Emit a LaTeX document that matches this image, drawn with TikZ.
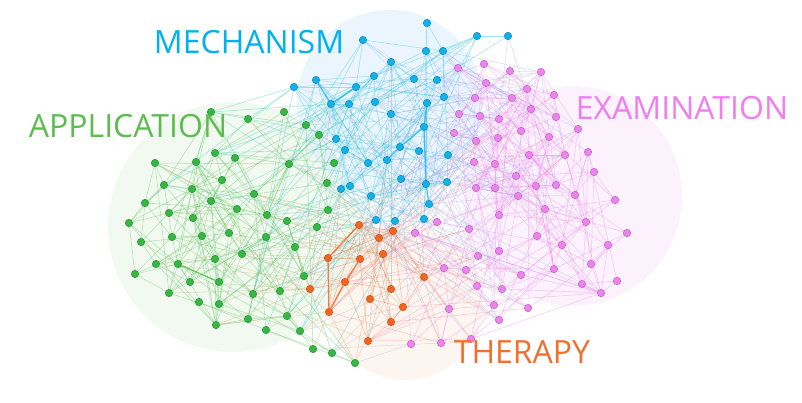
\documentclass[tikz,border=0pt]{standalone}
\usepackage{fontspec}
\setmainfont{Open Sans}
\pgfdeclarelayer{bg}
\pgfdeclarelayer{fg}
\pgfsetlayers{bg,main,fg}
% circle fills
\definecolor{cirg}{HTML}{E2F3DE}
\definecolor{cirb}{HTML}{D4EBFB}
\definecolor{cirp}{HTML}{F9E0FB}
\definecolor{ciro}{HTML}{FBE3D5}
% node fills / borders
\definecolor{fill1}{HTML}{34B843}\definecolor{line1}{HTML}{1F8A2C}
\definecolor{fill2}{HTML}{10B2E8}\definecolor{line2}{HTML}{0A7DAE}
\definecolor{fill3}{HTML}{EE82EE}\definecolor{line3}{HTML}{B25AB2}
\definecolor{fill4}{HTML}{F2651F}\definecolor{line4}{HTML}{BE4A10}
% edge colours
\definecolor{e11}{HTML}{4CBF4C}
\definecolor{e22}{HTML}{18BEEE}
\definecolor{e33}{HTML}{F07CF0}
\definecolor{e44}{HTML}{F26A2A}
\definecolor{e12}{HTML}{2CC4B0}\colorlet{e21}{e12}
\definecolor{e13}{HTML}{B8B0B8}\colorlet{e31}{e13}
\definecolor{e14}{HTML}{C8A860}\colorlet{e41}{e14}
\definecolor{e23}{HTML}{98B0F8}\colorlet{e32}{e23}
\definecolor{e24}{HTML}{98A0A8}\colorlet{e42}{e24}
\definecolor{e34}{HTML}{F4849A}\colorlet{e43}{e34}
% label colours
\definecolor{tg}{HTML}{5CBD4F}
\definecolor{tb}{HTML}{00B0F0}
\definecolor{tp}{HTML}{F07EF0}
\definecolor{to}{HTML}{F0702E}
\def\AllNodes{211/112/1,248/119/1,215/153/1,196/162/1,235/158/1,155/163/1,164/185/1,192/189/1,222/180/1,254/194/1,211/201/1,145/203/1,237/209/1,169/213/1,193/218/1,267/215/1,129/223/1,172/237/1,202/236/1,229/233/1,266/237/1,141/242/1,242/254/1,215/259/1,156/264/1,178/264/1,135/274/1,190/282/1,219/282/1,253/294/1,169/293/1,199/302/1,219/304/1,248/319/1,216/325/1,266/330/1,284/112/1,306/125/1,319/135/1,289/164/1,334/163/1,327/183/1,328/210/1,287/221/1,317/227/1,295/247/1,304/276/1,280/291/1,287/316/1,300/331/1,313/349/1,332/353/1,355/363/1,%
427/23/2,363/40/2,426/51/2,443/51/2,477/36/2,508/36/2,391/62/2,316/80/2,374/76/2,414/79/2,437/80/2,294/87/2,356/87/2,331/104/2,349/104/2,375/102/2,427/103/2,444/97/2,391/114/2,424/127/2,336/139/2,345/150/2,400/147/2,419/151/2,448/155/2,368/163/2,387/160/2,401/179/2,426/184/2,447/182/2,341/189/2,350/186/2,371/196/2,429/204/2,376/220/2,395/221/2,424/219/2,%
458/68/3,484/64/3,510/71/3,541/72/3,486/83/3,527/89/3,554/95/3,475/98/3,512/98/3,531/109/3,459/114/3,480/116/3,499/119/3,556/117/3,578/129/3,521/131/3,454/133/3,476/141/3,498/138/3,549/137/3,529/155/3,565/155/3,588/152/3,474/162/3,495/164/3,594/172/3,516/176/3,476/188/3,495/188/3,536/186/3,556/185/3,518/196/3,575/195/3,615/200/3,545/209/3,499/215/3,586/222/3,437/222/3,469/229/3,627/233/3,537/236/3,562/245/3,608/245/3,499/251/3,478/256/3,591/264/3,444/268/3,466/270/3,554/269/3,521/275/3,617/281/3,582/284/3,477/286/3,502/289/3,601/293/3,494/305/3,528/308/3,449/309/3,499/320/3,471/339/3,441/343/3,411/344/3,415/233/3,%
359/225/4,393/231/4,379/238/4,328/258/4,360/259/4,383/254/4,345/282/4,424/277/4,310/289/4,391/289/4,370/299/4,403/307/4,329/312/4,391/322/4,368/341/4}
\begin{document}
\begin{tikzpicture}[x=1pt,y=-1pt,
  dot1/.style={circle,fill=fill1,draw=line1,line width=0.4pt,minimum size=7.5pt,inner sep=0pt},
  dot2/.style={circle,fill=fill2,draw=line2,line width=0.4pt,minimum size=7.5pt,inner sep=0pt},
  dot3/.style={circle,fill=fill3,draw=line3,line width=0.4pt,minimum size=7.5pt,inner sep=0pt},
  dot4/.style={circle,fill=fill4,draw=line4,line width=0.4pt,minimum size=7.5pt,inner sep=0pt},
  edge/.style={line width=0.55pt,draw opacity=0.4},
  heavy/.style={line width=1.3pt,draw opacity=0.85},
  lbl/.style={font=\fontsize{32}{34}\selectfont,inner sep=0pt}]
\useasboundingbox (0,0) rectangle (802,402);
\begin{pgfonlayer}{bg}
  \fill[white] (0,0) rectangle (802,402);
  \fill[cirg,fill opacity=0.42] (233,227) circle (125);
  \fill[cirb,fill opacity=0.45] (390,103) circle (93);
  \fill[ciro,fill opacity=0.35] (405,302) circle (78);
  \fill[cirp,fill opacity=0.4] (572,196) circle (110);
\end{pgfonlayer}
% nodes
\begin{pgfonlayer}{fg}
\foreach \px/\py/\pc [count=\i] in \AllNodes {
  \expandafter\xdef\csname PX\i\endcsname{\px}
  \expandafter\xdef\csname PY\i\endcsname{\py}
  \expandafter\xdef\csname PC\i\endcsname{\pc}
  \node[dot\pc] (n\i) at (\px,\py) {};
}
\end{pgfonlayer}
% connectors
\pgfmathsetseed{2024}
\foreach \i in {1,...,168}{
  \foreach \j in {\i,...,168}{
    \ifnum\j>\i\relax
      \edef\dx{\the\numexpr\csname PX\i\endcsname-\csname PX\j\endcsname\relax}
      \edef\dy{\the\numexpr\csname PY\i\endcsname-\csname PY\j\endcsname\relax}
      \edef\dd{\the\numexpr\dx*\dx+\dy*\dy\relax}
      \ifnum\dd<62500\relax
        \pgfmathrandominteger{\rr}{0}{999}
        \edef\ci{\csname PC\i\endcsname}\edef\cj{\csname PC\j\endcsname}
        \ifnum\ci=\cj\relax
          \ifnum\dd<2500 \def\pp{450}\else\ifnum\dd<8100 \def\pp{210}\else\ifnum\dd<19600 \def\pp{90}\else\ifnum\dd<40000 \def\pp{25}\else\def\pp{8}\fi\fi\fi\fi
        \else
          \ifnum\dd<2500 \def\pp{200}\else\ifnum\dd<8100 \def\pp{120}\else\ifnum\dd<19600 \def\pp{70}\else\ifnum\dd<40000 \def\pp{30}\else\def\pp{12}\fi\fi\fi\fi
        \fi
        \ifnum\rr<\pp\relax
          \edef\ec{e\ci\cj}
          \draw[edge,draw=\ec] (n\i) -- (n\j);
        \fi
      \fi
    \fi
  }
}
% emphasised connectors
\draw[heavy,draw=e22] (n73) -- (n76);
\draw[heavy,draw=e22] (n76) -- (n80);
\draw[heavy,draw=e22] (n73) -- (n82);
\draw[heavy,draw=e22] (n82) -- (n87);
\draw[heavy,draw=e22] (n73) -- (n70);
\draw[heavy,draw=e22] (n61) -- (n67);
\draw[heavy,draw=e22] (n67) -- (n66);
\draw[heavy,draw=e44] (n157) -- (n154);
\draw[heavy,draw=e44] (n157) -- (n166);
\draw[heavy,draw=e44] (n160) -- (n166);
\draw[heavy,draw=e44] (n160) -- (n158);
\draw[heavy,draw=e11] (n26) -- (n29);
% labels
\begin{pgfonlayer}{fg}
\node[lbl,text=tb] (tm) at (249,42) {MECHANISM};
\node[lbl,text=tg] (ta) at (128,126) {APPLICATION};
\node[lbl,text=tp] (te) at (682,108) {EXAMINATION};
\node[lbl,text=to] (tt) at (522,352) {THERAPY};
\end{pgfonlayer}
\end{tikzpicture}
\end{document}
